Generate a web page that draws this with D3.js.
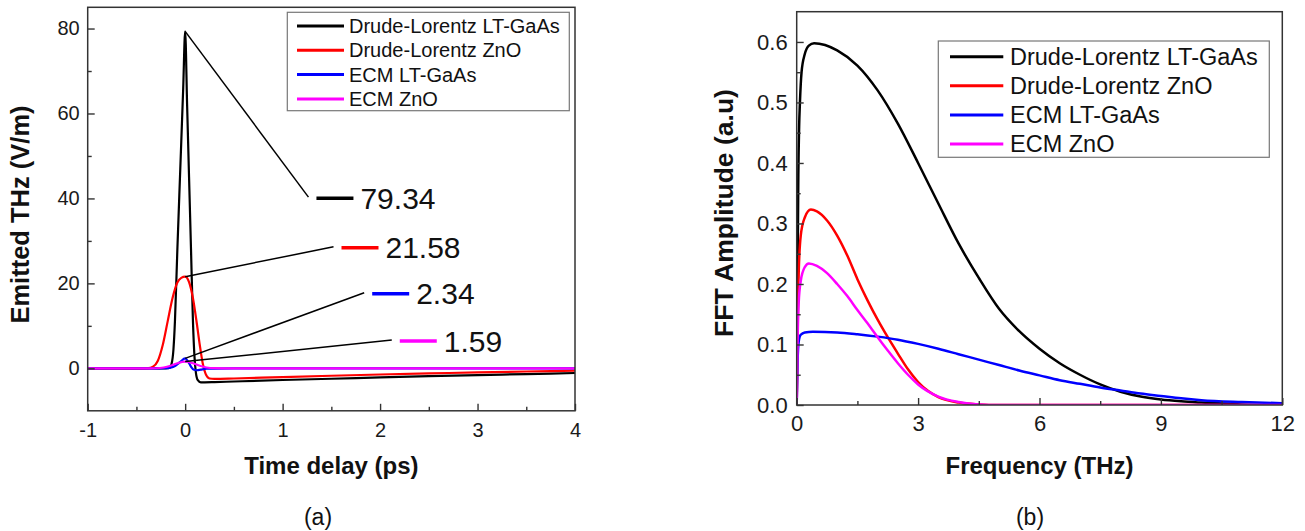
<!DOCTYPE html>
<html><head><meta charset="utf-8">
<script src="https://cdn.jsdelivr.net/npm/d3@7"></script>
<style>
html,body{margin:0;padding:0;background:#fff;}
svg{display:block;font-family:Arial,"Liberation Sans",sans-serif;}
</style></head><body>
<svg id="chart" width="1305" height="531"></svg>
<script>
// ================= DATA =================
const seriesNames = ["Drude-Lorentz LT-GaAs", "Drude-Lorentz ZnO", "ECM LT-GaAs", "ECM ZnO"];

// (a) emitted THz field (V/m) vs time delay (ps)
const tDLGaAs = [-1, -0.5, -0.2, -0.16, -0.14, -0.12, -0.105, -0.08, -0.05, -0.02, 0, 0.02, 0.04, 0.06, 0.08, 0.095, 0.11, 0.13, 0.16, 0.2, 0.3, 0.5, 1, 1.5, 2, 2.5, 3, 3.5, 4];
const eDLGaAs = [0, 0, 0, 0.1, 1, 4.5, 11, 28, 47, 66, 79.34, 62, 45, 28, 11, 3, -1, -2.8, -3.3, -3.3, -3.25, -3.1, -2.75, -2.45, -2.15, -1.85, -1.6, -1.35, -1.1];
const tDLZnO = [-1, -0.5, -0.38, -0.33, -0.28, -0.23, -0.18, -0.13, -0.08, -0.04, 0, 0.04, 0.08, 0.12, 0.15, 0.18, 0.21, 0.25, 0.3, 0.5, 1, 1.5, 2, 2.5, 3, 3.5, 4];
const eDLZnO = [0, 0, 0.05, 0.4, 1.8, 5.5, 11, 16.5, 20.2, 21.3, 21.58, 20.3, 16.5, 10.5, 5.5, 1.2, -1.3, -2.4, -2.5, -2.4, -2.05, -1.75, -1.45, -1.2, -0.95, -0.75, -0.55];
const tECMGaAs = [-1, -0.3, -0.2, -0.15, -0.1, -0.05, 0, 0.03, 0.06, 0.09, 0.12, 0.16, 0.22, 0.3, 0.5, 1, 2, 3, 4];
const eECMGaAs = [0, 0, 0.02, 0.15, 0.6, 1.5, 2.34, 1.6, 0.4, -0.35, -0.45, -0.3, -0.1, -0.05, 0, 0, 0, 0, 0];
const tECMZnO = [-1, -0.4, -0.3, -0.22, -0.15, -0.08, 0, 0.08, 0.15, 0.22, 0.3, 0.4, 1, 2, 3, 4];
const eECMZnO = [0, 0, 0.02, 0.2, 0.6, 1.2, 1.59, 1.2, 0.6, 0.2, 0.03, 0, 0, 0, 0, 0];
const peakLabels = ["79.34", "21.58", "2.34", "1.59"];

// (b) FFT amplitude (a.u) vs frequency (THz)
const fDLGaAs = [0, 0.02, 0.04, 0.06, 0.08, 0.12, 0.2, 0.3, 0.43, 0.7, 1, 1.5, 2, 2.5, 3, 3.5, 4, 4.5, 5, 5.5, 6, 6.5, 7, 7.5, 8, 8.5, 9, 9.5, 10, 11, 12];
const aDLGaAs = [0, 0.2, 0.38, 0.46, 0.5, 0.55, 0.58, 0.594, 0.598, 0.595, 0.586, 0.561, 0.52, 0.465, 0.40, 0.333, 0.267, 0.210, 0.159, 0.122, 0.093, 0.069, 0.050, 0.034, 0.022, 0.014, 0.009, 0.006, 0.004, 0.001, 0];
const fDLZnO = [0, 0.02, 0.05, 0.1, 0.2, 0.35, 0.5, 0.75, 1, 1.25, 1.5, 1.75, 2, 2.25, 2.5, 2.75, 3, 3.25, 3.5, 4, 4.5, 5, 12];
const aDLZnO = [0, 0.12, 0.22, 0.28, 0.31, 0.323, 0.32, 0.305, 0.28, 0.247, 0.208, 0.173, 0.141, 0.112, 0.085, 0.059, 0.038, 0.023, 0.013, 0.004, 0.001, 0, 0];
const fECMGaAs = [0, 0.02, 0.05, 0.1, 0.2, 0.4, 1, 1.5, 2, 2.5, 3, 3.5, 4, 4.5, 5, 5.5, 6, 6.5, 7, 7.5, 8, 8.5, 9, 9.5, 10, 11, 12];
const aECMGaAs = [0, 0.07, 0.105, 0.116, 0.12, 0.121, 0.12, 0.117, 0.113, 0.108, 0.101, 0.093, 0.084, 0.075, 0.066, 0.057, 0.049, 0.041, 0.035, 0.029, 0.024, 0.019, 0.015, 0.011, 0.008, 0.005, 0.003];
const fECMZnO = [0, 0.02, 0.05, 0.1, 0.2, 0.3, 0.5, 0.75, 1, 1.25, 1.5, 1.75, 2, 2.25, 2.5, 2.75, 3, 3.5, 4, 4.5, 5, 12];
const aECMZnO = [0, 0.1, 0.17, 0.205, 0.228, 0.234, 0.23, 0.218, 0.2, 0.18, 0.157, 0.135, 0.112, 0.09, 0.069, 0.05, 0.034, 0.014, 0.005, 0.001, 0, 0];

// ticks
const timeTicks = [-1, 0, 1, 2, 3, 4];
const timeTickLabels = ["-1", "0", "1", "2", "3", "4"];
const timeMinor = [-0.5, 0.5, 1.5, 2.5, 3.5];
const fieldTicks = [0, 20, 40, 60, 80];
const fieldTickLabels = ["0", "20", "40", "60", "80"];
const fieldMinor = [10, 30, 50, 70];
const freqTicks = [0, 3, 6, 9, 12];
const freqTickLabels = ["0", "3", "6", "9", "12"];
const freqMinor = [1.5, 4.5, 7.5, 10.5];
const ampTicks = [0, 0.1, 0.2, 0.3, 0.4, 0.5, 0.6];
const ampTickLabels = ["0.0", "0.1", "0.2", "0.3", "0.4", "0.5", "0.6"];
const ampMinor = [0.05, 0.15, 0.25, 0.35, 0.45, 0.55];

// ================= STYLE / LAYOUT =================
const colors = ["#000000", "#ff0000", "#0000ff", "#ff00ff"];
const axisColor = "#333";
// label anchor points of the peak call-outs, in data units of panel (a)
const calloutAnchors = [[1.265, 40.3], [1.522, 28.6], [1.837, 17.8], [2.12, 6.66]];

const svg = d3.select("#chart");
svg.append("rect").attr("width", 1305).attr("height", 531).attr("fill", "#fff");

const zip = (xs, ys) => xs.map((x, i) => [x, ys[i]]);
const seriesA = [zip(tDLGaAs, eDLGaAs), zip(tDLZnO, eDLZnO), zip(tECMGaAs, eECMGaAs), zip(tECMZnO, eECMZnO)];
const seriesB = [zip(fDLGaAs, aDLGaAs), zip(fDLZnO, aDLZnO), zip(fECMGaAs, aECMGaAs), zip(fECMZnO, aECMZnO)];

function panel(opt) {
  const g = svg.append("g");
  const x = d3.scaleLinear().domain(opt.xDomain).range(opt.xRange);
  const y = d3.scaleLinear().domain(opt.yDomain).range(opt.yRange);
  const id = "clip" + opt.key;
  svg.append("defs").append("clipPath").attr("id", id).append("rect")
    .attr("x", opt.xRange[0]).attr("y", opt.yRange[1])
    .attr("width", opt.xRange[1] - opt.xRange[0]).attr("height", opt.yRange[0] - opt.yRange[1]);

  const line = d3.line().x(d => x(d[0])).y(d => y(d[1])).curve(d3.curveMonotoneX);
  g.append("g").attr("clip-path", `url(#${id})`).selectAll("path").data(opt.series).join("path")
    .attr("d", line).attr("fill", "none").attr("stroke", (d, i) => colors[i])
    .attr("stroke-width", opt.lineWidth).attr("stroke-linejoin", "round");

  const styleAxis = (sel, fs) => {
    sel.select(".domain").remove();
    sel.selectAll(".tick line").attr("stroke", axisColor).attr("stroke-width", 1.4);
    sel.selectAll(".tick text").attr("fill", "#1a1a1a").attr("font-size", fs)
      .attr("font-family", "Arial, 'Liberation Sans', sans-serif");
  };
  const by = opt.yRange[0], lx = opt.xRange[0];
  g.append("g").attr("transform", `translate(0,${by})`)
    .call(d3.axisBottom(x).tickValues(opt.xTicks).tickFormat((d, i) => opt.xLabels[i])
      .tickSizeInner(-7).tickSizeOuter(0).tickPadding(opt.xPad))
    .call(s => styleAxis(s, opt.tickFont));
  g.append("g").attr("transform", `translate(0,${by})`)
    .call(d3.axisBottom(x).tickValues(opt.xMinor).tickFormat("").tickSizeInner(-4).tickSizeOuter(0))
    .call(s => styleAxis(s, opt.tickFont));
  g.append("g").attr("transform", `translate(${lx},0)`)
    .call(d3.axisLeft(y).tickValues(opt.yTicks).tickFormat((d, i) => opt.yLabels[i])
      .tickSizeInner(-7).tickSizeOuter(0).tickPadding(opt.yPad))
    .call(s => styleAxis(s, opt.tickFont));
  g.append("g").attr("transform", `translate(${lx},0)`)
    .call(d3.axisLeft(y).tickValues(opt.yMinor).tickFormat("").tickSizeInner(-4).tickSizeOuter(0))
    .call(s => styleAxis(s, opt.tickFont));

  g.append("rect").attr("x", lx).attr("y", opt.yRange[1])
    .attr("width", opt.xRange[1] - lx).attr("height", by - opt.yRange[1])
    .attr("fill", "none").attr("stroke", axisColor).attr("stroke-width", 1.5);

  // axis titles
  g.append("text").attr("x", (opt.xRange[0] + opt.xRange[1]) / 2).attr("y", opt.xTitleY)
    .attr("text-anchor", "middle").attr("font-weight", "bold").attr("font-size", opt.xTitleFont)
    .attr("fill", "#111").text(opt.xTitle);
  g.append("text").attr("transform", `translate(${opt.yTitleX},${opt.yTitleCY}) rotate(-90)`)
    .attr("text-anchor", "middle").attr("font-weight", "bold").attr("font-size", opt.yTitleFont)
    .attr("fill", "#111").text(opt.yTitle);
  g.append("text").attr("x", opt.capX).attr("y", opt.capY).attr("text-anchor", "middle")
    .attr("font-size", 23).attr("fill", "#111").text(opt.caption);

  // legend
  const L = opt.legend;
  const lg = g.append("g");
  lg.append("rect").attr("x", L.x).attr("y", L.y).attr("width", L.w).attr("height", L.h)
    .attr("fill", "#fff").attr("stroke", "#777").attr("stroke-width", 1.2);
  seriesNames.forEach((name, i) => {
    const ry = L.row0 + i * L.dy;
    lg.append("line").attr("x1", L.lx1).attr("x2", L.lx2).attr("y1", ry).attr("y2", ry)
      .attr("stroke", colors[i]).attr("stroke-width", 3);
    lg.append("text").attr("x", L.tx).attr("y", ry).attr("dy", "0.35em")
      .attr("font-size", L.fs).attr("fill", "#111").text(name);
  });
  return {x, y, g};
}

const A = panel({
  key: "A", series: seriesA, lineWidth: 2.2,
  xDomain: [-1, 4], xRange: [87.7, 575], yDomain: [-10, 85], yRange: [410.8, 7.3],
  xTicks: timeTicks, xLabels: timeTickLabels, xMinor: timeMinor,
  yTicks: fieldTicks, yLabels: fieldTickLabels, yMinor: fieldMinor,
  tickFont: 20, xPad: 12.5, yPad: 8,
  xTitle: "Time delay (ps)", xTitleY: 474, xTitleFont: 24,
  yTitle: "Emitted THz (V/m)", yTitleX: 29, yTitleCY: 214.5, yTitleFont: 25.5,
  caption: "(a)", capX: 318, capY: 525,
  legend: {x: 287.3, y: 12.3, w: 282, h: 98.4, lx1: 297, lx2: 344, tx: 349, row0: 26, dy: 24.3, fs: 20}
});

// call-outs for the peak values in panel (a)
seriesA.forEach((s, i) => {
  const pk = s.reduce((a, b) => (b[1] > a[1] ? b : a));
  const ax = A.x(calloutAnchors[i][0]), ay = A.y(calloutAnchors[i][1]);
  A.g.append("line").attr("x1", A.x(pk[0])).attr("y1", A.y(pk[1])).attr("x2", ax).attr("y2", ay)
    .attr("stroke", "#000").attr("stroke-width", 1.5);
  A.g.append("line").attr("x1", ax + 8).attr("x2", ax + 45).attr("y1", ay + 1).attr("y2", ay + 1)
    .attr("stroke", colors[i]).attr("stroke-width", 3.5);
  A.g.append("text").attr("x", ax + 52).attr("y", ay + 1).attr("dy", "0.35em")
    .attr("font-size", 30).attr("fill", "#111").text(peakLabels[i]);
});

panel({
  key: "B", series: seriesB, lineWidth: 2.5,
  xDomain: [0, 12], xRange: [796.7, 1282.3], yDomain: [0, 0.65], yRange: [405, 11.7],
  xTicks: freqTicks, xLabels: freqTickLabels, xMinor: freqMinor,
  yTicks: ampTicks, yLabels: ampTickLabels, yMinor: ampMinor,
  tickFont: 22, xPad: 10, yPad: 9,
  xTitle: "Frequency (THz)", xTitleY: 474, xTitleFont: 24,
  yTitle: "FFT Amplitude (a.u)", yTitleX: 733, yTitleCY: 213, yTitleFont: 26.5,
  caption: "(b)", capX: 1030, capY: 525,
  legend: {x: 938.3, y: 41, w: 331, h: 116.3, lx1: 950, lx2: 1003.3, tx: 1010, row0: 56.7, dy: 29.1, fs: 23.5}
});
</script>
</body></html>
